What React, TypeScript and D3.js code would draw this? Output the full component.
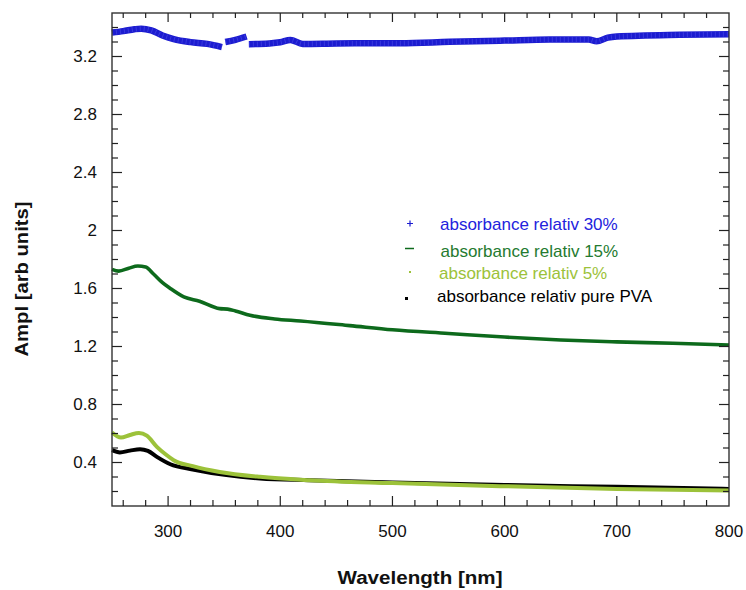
import React, { useEffect, useRef } from 'react';
import * as d3 from 'd3';

// wavelength [nm] / amplitude pairs (null = gap in the trace)
const wl30 = [250, 260, 270, 276, 285, 295, 305, 320, 335, 348, null, 351, 360, 370, null, 372, 390, 400, 409, 420, 450, 507, 551, 600, 640, 675, 682, 692, 700, 756, 800];
const amp30 = [3.365, 3.375, 3.388, 3.392, 3.38, 3.345, 3.32, 3.299, 3.287, 3.265, null, 3.3, 3.315, 3.338, null, 3.285, 3.29, 3.298, 3.314, 3.287, 3.29, 3.292, 3.301, 3.31, 3.317, 3.318, 3.305, 3.33, 3.338, 3.35, 3.354];

const wl15 = [250, 256, 265, 273, 280, 287, 295, 302, 314, 328, 346, 353, 360, 373, 395, 418, 462, 500, 550, 600, 650, 700, 750, 800];
const amp15 = [1.732, 1.72, 1.74, 1.755, 1.748, 1.7, 1.64, 1.6, 1.542, 1.512, 1.461, 1.458, 1.445, 1.415, 1.39, 1.376, 1.344, 1.315, 1.29, 1.265, 1.245, 1.232, 1.222, 1.21];

const wl5 = [250, 258, 266, 274, 281, 290, 298, 305, 322, 346, 382, 426, 500, 596, 700, 800];
const amp5 = [0.607, 0.572, 0.59, 0.604, 0.585, 0.508, 0.455, 0.416, 0.375, 0.335, 0.301, 0.278, 0.258, 0.237, 0.218, 0.207];

const wlPva = [250, 257, 266, 275, 282, 290, 302, 322, 352, 382, 426, 500, 600, 700, 800];
const ampPva = [0.485, 0.469, 0.482, 0.492, 0.48, 0.439, 0.388, 0.352, 0.313, 0.29, 0.278, 0.262, 0.245, 0.232, 0.218];

const xTicks = [300, 400, 500, 600, 700, 800];
const yTicks = [0.4, 0.8, 1.2, 1.6, 2, 2.4, 2.8, 3.2];
const legendLabels = ['absorbance relativ 30%', 'absorbance relativ 15%', 'absorbance relativ 5%', 'absorbance relativ pure PVA'];

const BLUE = '#1c1cd0';
const GREEN = '#0d6a1c';
const LIME = '#9cc23a';
const FONT = 'Liberation Sans, Arial, sans-serif';

export default function App() {
  const svgRef = useRef<SVGSVGElement>(null);

  useEffect(() => {
    if (!svgRef.current) return;
    const svg = d3.select(svgRef.current);
    svg.selectAll('*').remove();

    const left = 112, right = 729, top = 13, bottom = 506;
    const x = d3.scaleLinear().domain([250, 800]).range([left, right]);
    const y = d3.scaleLinear().domain([0.1, 3.5]).range([bottom, top]);

    const g = svg.append('g');

    const pairs = (xs: (number | null)[], ys: (number | null)[]) =>
      xs.map((w, i) => ({ w, a: ys[i] }));

    const line = d3.line<{ w: number | null; a: number | null }>()
      .defined((d) => d.w != null && d.a != null)
      .x((d) => x(d.w as number))
      .y((d) => y(d.a as number))
      .curve(d3.curveMonotoneX);

    const series = [
      { xs: wl30, ys: amp30, color: BLUE, width: 6.5 },
      { xs: wl15, ys: amp15, color: GREEN, width: 3.6 },
      { xs: wlPva, ys: ampPva, color: '#000', width: 4 },
      { xs: wl5, ys: amp5, color: LIME, width: 4 },
    ];

    series.forEach((s) => {
      g.append('path')
        .datum(pairs(s.xs, s.ys))
        .attr('d', line)
        .attr('fill', 'none')
        .attr('stroke', s.color)
        .attr('stroke-width', s.width)
        .attr('stroke-linecap', 'butt');
    });
    // marker texture on the 30% band
    g.append('path')
      .datum(pairs(wl30, amp30))
      .attr('d', line)
      .attr('fill', 'none')
      .attr('stroke', '#7a7aff')
      .attr('stroke-width', 5)
      .attr('stroke-dasharray', '1 3')
      .attr('stroke-opacity', 0.3);

    // frame
    g.append('rect')
      .attr('x', left).attr('y', top)
      .attr('width', right - left).attr('height', bottom - top)
      .attr('fill', 'none').attr('stroke', '#333').attr('stroke-width', 1.4);

    const tickColor = '#222';
    const xMinor = d3.range(260, 800, 20);
    const yMinor = d3.range(0.2, 3.5, 0.1).map((v) => +v.toFixed(2));

    xMinor.forEach((t) => {
      const major = t % 100 === 0;
      const len = major ? 10 : 6;
      g.append('line').attr('x1', x(t)).attr('x2', x(t)).attr('y1', bottom).attr('y2', bottom - len)
        .attr('stroke', tickColor).attr('stroke-width', 1.2);
      g.append('line').attr('x1', x(t)).attr('x2', x(t)).attr('y1', top).attr('y2', top + (major ? 9 : 5))
        .attr('stroke', tickColor).attr('stroke-width', 1.2);
    });
    yMinor.forEach((t) => {
      const major = Math.abs(t / 0.4 - Math.round(t / 0.4)) < 1e-6;
      const len = major ? 10 : 6;
      g.append('line').attr('x1', left).attr('x2', left + len).attr('y1', y(t)).attr('y2', y(t))
        .attr('stroke', tickColor).attr('stroke-width', 1.2);
      g.append('line').attr('x1', right).attr('x2', right - len).attr('y1', y(t)).attr('y2', y(t))
        .attr('stroke', tickColor).attr('stroke-width', 1.2);
    });

    g.selectAll('text.xt').data(xTicks).join('text')
      .attr('x', (d) => x(d)).attr('y', 537)
      .attr('text-anchor', 'middle').attr('font-family', FONT).attr('font-size', 17)
      .attr('fill', '#111').text((d) => String(d));

    g.selectAll('text.yt').data(yTicks).join('text')
      .attr('x', 97).attr('y', (d) => y(d)).attr('dy', '0.35em')
      .attr('text-anchor', 'end').attr('font-family', FONT).attr('font-size', 17)
      .attr('fill', '#111').text((d) => String(d));

    g.append('text')
      .attr('x', 420).attr('y', 584)
      .attr('text-anchor', 'middle').attr('font-family', FONT).attr('font-size', 18)
      .attr('font-weight', 'bold').attr('fill', '#111')
      .attr('textLength', 165).attr('lengthAdjust', 'spacingAndGlyphs')
      .text('Wavelength [nm]');

    g.append('text')
      .attr('transform', 'translate(28,279) rotate(-90)')
      .attr('text-anchor', 'middle').attr('font-family', FONT).attr('font-size', 18)
      .attr('font-weight', 'bold').attr('fill', '#111')
      .attr('textLength', 155).attr('lengthAdjust', 'spacingAndGlyphs')
      .text('Ampl [arb units]');

    // legend
    const legColors = ['#2222dd', '#247a30', LIME, '#000'];
    const legY = [230, 256.5, 278.5, 302];
    const legX = [440, 440.5, 439, 437];
    legendLabels.forEach((lab, i) => {
      g.append('text')
        .attr('x', legX[i]).attr('y', legY[i])
        .attr('font-family', FONT).attr('font-size', 17)
        .attr('fill', legColors[i]).text(lab);
    });
    const lg = g.append('g');
    lg.append('path').attr('d', 'M407,223.5h6M410,220.5v6').attr('stroke', BLUE).attr('stroke-width', 1.2);
    lg.append('path').attr('d', 'M405,248.5h9').attr('stroke', GREEN).attr('stroke-width', 1.5);
    lg.append('rect').attr('x', 409).attr('y', 271).attr('width', 2).attr('height', 2).attr('fill', LIME);
    lg.append('rect').attr('x', 405).attr('y', 297).attr('width', 3).attr('height', 3).attr('fill', '#000');
  }, []);

  return (
    <svg
      ref={svgRef}
      width={746}
      height={590}
      style={{ position: 'absolute', left: 0, top: 0, background: '#fff' }}
    />
  );
}
